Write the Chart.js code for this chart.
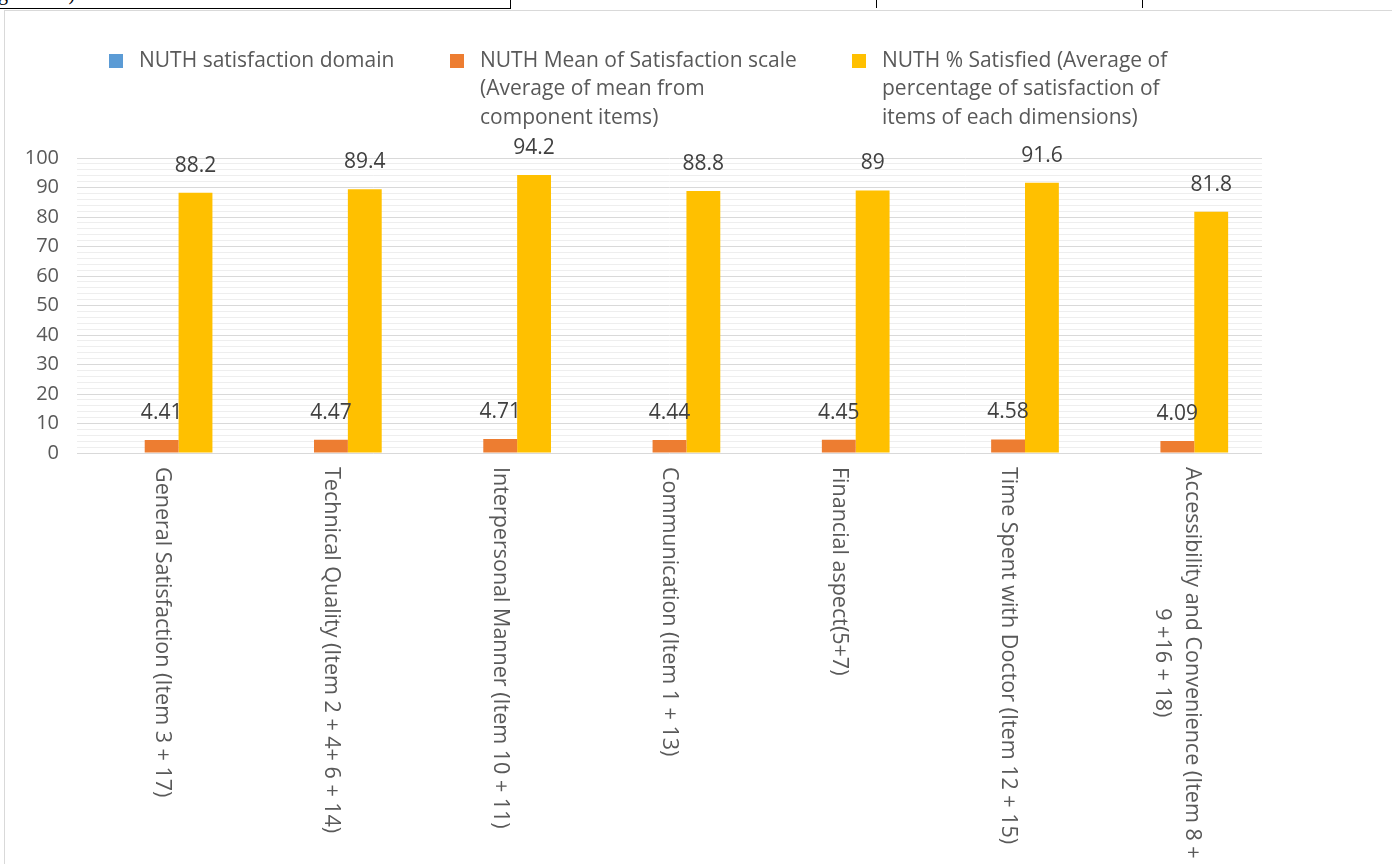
<!DOCTYPE html>
<html><head><meta charset="utf-8">
<script src="https://cdn.jsdelivr.net/npm/chart.js@4.4.0/dist/chart.umd.min.js"></script>
<style>
html,body{margin:0;padding:0;background:#fff;width:1392px;height:864px;overflow:hidden;position:relative;}
#frame{position:absolute;left:4px;top:10px;width:1500px;height:900px;border-left:1px solid #d9d9d9;border-top:1px solid #d9d9d9;box-sizing:border-box;}
#c{position:absolute;left:0;top:0;}
.cell{position:absolute;top:-17px;height:25px;font-family:"Liberation Serif",serif;font-size:20px;line-height:20px;color:#000;white-space:nowrap;overflow:hidden;}
</style></head>
<body>
<div class="cell" style="left:-2px;width:512px;border-right:1px solid #000;border-bottom:1px solid #000;">ge of all )</div>
<div class="cell" style="left:520px;width:356px;border-right:1px solid #000;">4.5</div>
<div class="cell" style="left:886px;width:256px;border-right:1px solid #000;">6.74</div>
<div class="cell" style="left:1152px;width:240px;">89%</div>
<div id="frame"></div>
<canvas id="c" width="1392" height="864"></canvas>
<script>
const categories = [
  "General Satisfaction (Item 3 + 17)",
  "Technical Quality (Item 2 + 4+ 6 + 14)",
  "Interpersonal Manner (Item 10 + 11)",
  "Communication (Item 1 + 13)",
  "Financial aspect(5+7)",
  "Time Spent with Doctor (Item 12 + 15)",
  ["Accessibility and Convenience (Item 8 +", "9 +16 + 18)"]
];
const seriesNames = [
  ["NUTH satisfaction domain"],
  ["NUTH Mean of Satisfaction scale", "(Average of mean from", "component items)"],
  ["NUTH % Satisfied (Average of", "percentage of satisfaction of", "items of each dimensions)"]
];
const domainValues = [null, null, null, null, null, null, null];
const meanValues = [4.41, 4.47, 4.71, 4.44, 4.45, 4.58, 4.09];
const pctValues = [88.2, 89.4, 94.2, 88.8, 89, 91.6, 81.8];
const yTickLabels = [0, 10, 20, 30, 40, 50, 60, 70, 80, 90, 100];

const FONT = '"Open Sans", "Noto Sans", sans-serif';
const TXT = '#595959';

const legendPlugin = {
  id: 'customLegend',
  afterDraw(chart) {
    const ctx = chart.ctx;
    const xs = [109, 450, 852];
    const lh = 28.5, top = 61, box = 14;
    ctx.save();
    ctx.font = '21px ' + FONT;
    ctx.textBaseline = 'middle';
    ctx.textAlign = 'left';
    chart.data.datasets.forEach((ds, i) => {
      const x = xs[i];
      ctx.fillStyle = ds.backgroundColor;
      ctx.fillRect(x, top - box / 2, box, box);
      ctx.fillStyle = TXT;
      seriesNames[i].forEach((l, j) => ctx.fillText(l, x + 30, top + j * lh));
    });
    ctx.restore();
  }
};

const dataLabelPlugin = {
  id: 'dataLabels',
  afterDatasetsDraw(chart) {
    const ctx = chart.ctx;
    ctx.save();
    ctx.font = '21px ' + FONT;
    ctx.fillStyle = '#404040';
    ctx.textAlign = 'center';
    ctx.textBaseline = 'middle';
    chart.data.datasets.forEach((ds, i) => {
      const meta = chart.getDatasetMeta(i);
      meta.data.forEach((el, j) => {
        const v = ds.data[j];
        if (v === null || v === undefined) return;
        ctx.fillText(String(v), el.x, el.y - 27);
      });
    });
    ctx.restore();
  }
};

const xLabelPlugin = {
  id: 'xLabels',
  afterDraw(chart) {
    const ctx = chart.ctx;
    const xs = chart.scales.x;
    const y0 = chart.chartArea.bottom + 14;
    const lh = 30;
    ctx.save();
    ctx.font = '21.5px ' + FONT;
    ctx.fillStyle = TXT;
    ctx.textAlign = 'center';
    ctx.textBaseline = 'middle';
    categories.forEach((lab, i) => {
      const lines = Array.isArray(lab) ? lab : [lab];
      const x = xs.getPixelForTick(i);
      const w = Math.max(...lines.map(l => ctx.measureText(l).width));
      ctx.save();
      ctx.translate(x, y0);
      ctx.rotate(Math.PI / 2);
      lines.forEach((l, j) => {
        ctx.fillText(l, w / 2, (j - (lines.length - 1) / 2) * lh);
      });
      ctx.restore();
    });
    ctx.restore();
  }
};

new Chart(document.getElementById('c'), {
  type: 'bar',
  data: {
    labels: categories,
    datasets: [
      { label: seriesNames[0].join(' '), data: domainValues, backgroundColor: '#5B9BD5' },
      { label: seriesNames[1].join(' '), data: meanValues, backgroundColor: '#ED7D31' },
      { label: seriesNames[2].join(' '), data: pctValues, backgroundColor: '#FFC000' }
    ]
  },
  options: {
    responsive: false,
    animation: false,
    layout: { padding: { top: 158, right: 130, left: 0, bottom: 0 } },
    datasets: { bar: { categoryPercentage: 0.6, barPercentage: 1 } },
    plugins: { legend: { display: false }, tooltip: { enabled: false } },
    scales: {
      x: {
        grid: { display: false },
        border: { display: false },
        ticks: { display: false },
        afterFit(s) { s.height = 411; }
      },
      y: {
        min: 0, max: 100,
        border: { display: false },
        grid: {
          drawTicks: false,
          color: c => (c.tick && c.tick.value % 10 === 0) ? '#d9d9d9' : '#eeeeee',
          lineWidth: 1
        },
        ticks: {
          stepSize: 2,
          autoSkip: false,
          padding: 18,
          color: TXT,
          font: { family: FONT, size: 20 },
          callback: v => yTickLabels.includes(v) ? String(v) : ''
        },
        afterFit(s) { s.width = 77; }
      }
    }
  },
  plugins: [legendPlugin, dataLabelPlugin, xLabelPlugin]
});
</script>
</body></html>
